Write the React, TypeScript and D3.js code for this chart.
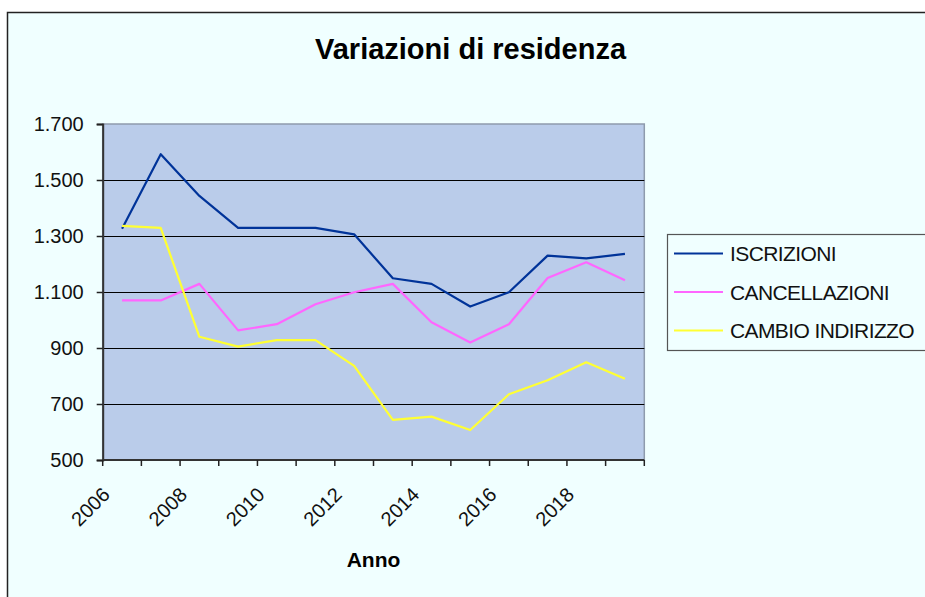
import React, { useEffect, useRef } from "react";
import * as d3 from "d3";

const years = [2006, 2007, 2008, 2009, 2010, 2011, 2012, 2013, 2014, 2015, 2016, 2017, 2018, 2019];
const iscrizioni = [1326, 1592, 1443, 1329, 1329, 1329, 1306, 1149, 1129, 1048, 1099, 1230, 1220, 1236];
const cancellazioni = [1070, 1070, 1129, 963, 985, 1056, 1099, 1129, 992, 920, 985, 1150, 1206, 1142];
const cambioIndirizzo = [1336, 1329, 940, 905, 928, 928, 836, 643, 655, 607, 735, 785, 849, 790];
const yTicks = [500, 700, 900, 1100, 1300, 1500, 1700];
const xLabels = [2006, 2008, 2010, 2012, 2014, 2016, 2018];

const series = [
    { name: "ISCRIZIONI", values: iscrizioni, color: "#003399" },
    { name: "CANCELLAZIONI", values: cancellazioni, color: "#FF66FF" },
    { name: "CAMBIO INDIRIZZO", values: cambioIndirizzo, color: "#FFFF33" },
];

const FONT = "'Liberation Sans', Arial, Helvetica, sans-serif";

const App = () => {
    const ref = useRef(null);

    useEffect(() => {
        const W = 925;
        const H = 597;
        const plot = { left: 102.7, right: 644.3, top: 124, bottom: 460 };

        const svg = d3
            .select(ref.current)
            .html("")
            .append("svg")
            .attr("width", W)
            .attr("height", H)
            .style("position", "absolute")
            .style("left", 0)
            .style("top", 0)
            .style("font-family", FONT);

        svg.append("rect").attr("width", W).attr("height", H).attr("fill", "#ffffff");

        // outer chart area
        svg.append("rect")
            .attr("x", 7.5)
            .attr("y", 12.5)
            .attr("width", W)
            .attr("height", H)
            .attr("fill", "#F0FFFF")
            .attr("stroke", "#222")
            .attr("stroke-width", 1.5);

        const x = d3.scaleBand().domain(years).range([plot.left, plot.right]);
        const y = d3.scaleLinear().domain([500, 1700]).range([plot.bottom, plot.top]);
        const fmt = d3.formatLocale({ decimal: ",", thousands: ".", grouping: [3], currency: ["", ""] }).format(",");

        // plot background
        svg.append("rect")
            .attr("x", plot.left)
            .attr("y", plot.top)
            .attr("width", plot.right - plot.left)
            .attr("height", plot.bottom - plot.top)
            .attr("fill", "#BACCEA")
            .attr("stroke", "#8E9BAD")
            .attr("stroke-width", 1.5);

        // gridlines
        svg.append("g")
            .selectAll("line")
            .data(yTicks.filter((t) => t > 500 && t < 1700))
            .join("line")
            .attr("x1", plot.left)
            .attr("x2", plot.right)
            .attr("y1", (d) => Math.round(y(d)) + 0.5)
            .attr("y2", (d) => Math.round(y(d)) + 0.5)
            .attr("stroke", "#000")
            .attr("stroke-width", 1.2);

        // y axis
        const yAxis = svg
            .append("g")
            .attr("transform", `translate(${plot.left},0)`)
            .call(d3.axisLeft(y).tickValues(yTicks).tickFormat(fmt).tickSize(6).tickPadding(13));
        yAxis.select(".domain").attr("stroke", "#333").attr("stroke-width", 2);
        yAxis.selectAll(".tick line").attr("stroke", "#222").attr("stroke-width", 1.5);
        yAxis.selectAll(".tick text")
            .attr("font-family", FONT)
            .attr("font-size", 20)
            .attr("fill", "#111");

        // x axis
        const xg = svg.append("g");
        xg.append("line")
            .attr("x1", plot.left)
            .attr("x2", plot.right)
            .attr("y1", plot.bottom)
            .attr("y2", plot.bottom)
            .attr("stroke", "#333")
            .attr("stroke-width", 2);
        xg.selectAll("line.tick")
            .data([...years.map((d) => x(d)), plot.right])
            .join("line")
            .attr("class", "tick")
            .attr("x1", (d) => d)
            .attr("x2", (d) => d)
            .attr("y1", plot.bottom)
            .attr("y2", plot.bottom + 6)
            .attr("stroke", "#222")
            .attr("stroke-width", 1.5);
        xg.selectAll("text")
            .data(xLabels)
            .join("text")
            .attr("transform", (d) => `translate(${x(d) + x.bandwidth() / 2 - 11},496) rotate(-45)`)
            .attr("text-anchor", "end")
            .attr("font-size", 20)
            .attr("fill", "#111")
            .text((d) => d);

        // lines
        const line = d3
            .line()
            .x((d, i) => x(years[i]) + x.bandwidth() / 2)
            .y((d) => y(d));

        svg.append("g")
            .selectAll("path")
            .data(series)
            .join("path")
            .attr("d", (s) => line(s.values))
            .attr("fill", "none")
            .attr("stroke", (s) => s.color)
            .attr("stroke-width", 2.2)
            .attr("stroke-linejoin", "round");

        // title + axis title
        svg.append("text")
            .attr("x", 470.5)
            .attr("y", 59)
            .attr("text-anchor", "middle")
            .attr("font-size", 29)
            .attr("font-weight", "bold")
            .attr("fill", "#000")
            .text("Variazioni di residenza");

        svg.append("text")
            .attr("x", (plot.left + plot.right) / 2)
            .attr("y", 567)
            .attr("text-anchor", "middle")
            .attr("font-size", 21)
            .attr("font-weight", "bold")
            .attr("fill", "#000")
            .text("Anno");

        // legend
        const legend = svg.append("g").attr("transform", "translate(667,234)");
        legend.append("rect")
            .attr("x", 0.5)
            .attr("y", 0.5)
            .attr("width", 300)
            .attr("height", 116)
            .attr("fill", "#F0FFFF")
            .attr("stroke", "#555")
            .attr("stroke-width", 1.2);
        const rows = legend
            .selectAll("g.row")
            .data(series)
            .join("g")
            .attr("class", "row")
            .attr("transform", (d, i) => `translate(0,${19.5 + i * 38.5})`);
        rows.append("line")
            .attr("x1", 7)
            .attr("x2", 56)
            .attr("stroke", (d) => d.color)
            .attr("stroke-width", 2);
        rows.append("text")
            .attr("x", 63)
            .attr("dy", "0.36em")
            .attr("font-size", 21)
            .attr("letter-spacing", -0.6)
            .attr("fill", "#111")
            .text((d) => d.name);
    }, []);

    return <div ref={ref} />;
};

export default App;
